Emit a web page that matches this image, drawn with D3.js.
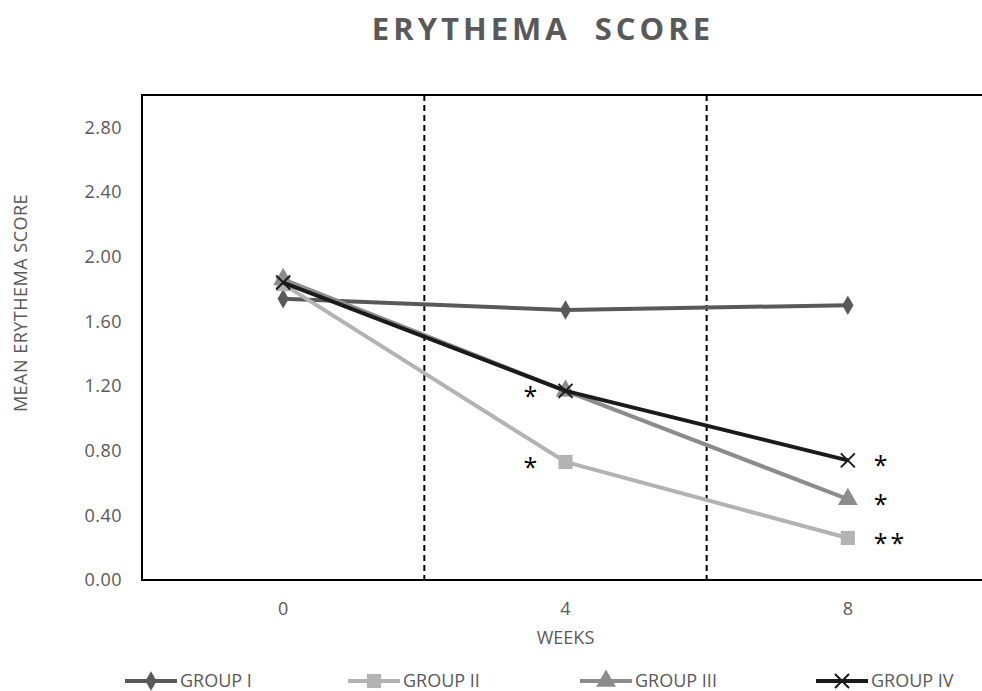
<!DOCTYPE html>
<html>
<head>
<meta charset="utf-8">
<script src="https://cdn.jsdelivr.net/npm/d3@7"></script>
<style>
  body { margin: 0; background: #fff; }
  text { font-family: "Open Sans", "Noto Sans", sans-serif; }
</style>
</head>
<body>
<div id="chart"></div>
<script>
// data
var weeks = ["0", "4", "8"];
var groupNames = ["GROUP I", "GROUP II", "GROUP III", "GROUP IV"];
var group1 = [1.74, 1.67, 1.70];
var group2 = [1.83, 0.73, 0.26];
var group3 = [1.86, 1.17, 0.50];
var group4 = [1.84, 1.17, 0.74];
var yTicks = [0, 0.4, 0.8, 1.2, 1.6, 2.0, 2.4, 2.8];
// significance marks: week, value next to it, text
var sigWeeks = ["4", "4", "8", "8", "8"];
var sigValues = [1.17, 0.73, 0.74, 0.50, 0.26];
var sigText = ["*", "*", "*", "*", "**"];

var W = 982, H = 691;
var margin = {top: 95, left: 142, bottom: 111};
var plotW = 847, plotH = H - margin.top - margin.bottom;

var series = [
    {name: groupNames[0], values: group1, color: "#595959", symbol: d3.symbolDiamond, size: 110},
    {name: groupNames[1], values: group2, color: "#b3b3b3", symbol: d3.symbolSquare, size: 200},
    {name: groupNames[2], values: group3, color: "#8c8c8c", symbol: d3.symbolTriangle, size: 170},
    {name: groupNames[3], values: group4, color: "#1a1a1a", symbol: "x", size: 0}
];

var svg = d3.select("#chart").append("svg")
    .attr("width", W)
    .attr("height", H);

var x = d3.scaleBand().domain(weeks).range([0, plotW]);
var y = d3.scaleLinear().domain([0, 3.0]).range([plotH, 0]);

var g = svg.append("g")
    .attr("transform", "translate(" + margin.left + "," + margin.top + ")");

// title
svg.append("text")
    .attr("x", 543)
    .attr("y", 40)
    .attr("text-anchor", "middle")
    .attr("fill", "#595959")
    .style("font-size", "31px")
    .style("font-weight", "bold")
    .style("letter-spacing", "4px")
    .style("white-space", "pre")
    .text("ERYTHEMA  SCORE");

// dashed separators between weeks
g.selectAll(".sep")
    .data(weeks.slice(1))
    .enter().append("line")
    .attr("x1", function (d) { return x(d); })
    .attr("x2", function (d) { return x(d); })
    .attr("y1", 0)
    .attr("y2", plotH)
    .attr("stroke", "#000")
    .attr("stroke-width", 2)
    .attr("stroke-dasharray", "6,4");

// frame: left, top, bottom
g.append("path")
    .attr("d", "M" + (plotW + 10) + ",0H0V" + plotH + "H" + (plotW + 10))
    .attr("fill", "none")
    .attr("stroke", "#000")
    .attr("stroke-width", 2);

// y axis ticks
var yAxis = d3.axisLeft(y).tickValues(yTicks).tickSize(0).tickPadding(20)
    .tickFormat(d3.format(".2f"));
g.append("g").call(yAxis)
    .call(function (s) { s.select(".domain").remove(); })
    .selectAll("text")
    .attr("fill", "#595959")
    .style("font-size", "18px")
    .style("letter-spacing", "0.5px");

// x axis ticks
var xAxis = d3.axisBottom(x).tickSize(0).tickPadding(22);
g.append("g")
    .attr("transform", "translate(0," + plotH + ")")
    .call(xAxis)
    .call(function (s) { s.select(".domain").remove(); })
    .selectAll("text")
    .attr("fill", "#595959")
    .style("font-size", "18px");

// axis titles
svg.append("text")
    .attr("transform", "translate(27," + 303 + ") rotate(-90)")
    .attr("text-anchor", "middle")
    .attr("fill", "#595959")
    .style("font-size", "18px")
    .style("letter-spacing", "0.5px")
    .text("MEAN ERYTHEMA SCORE");

svg.append("text")
    .attr("x", margin.left + x("4") + x.bandwidth() / 2)
    .attr("y", 644)
    .attr("text-anchor", "middle")
    .attr("fill", "#595959")
    .style("font-size", "18px")
    .text("WEEKS");

var cx = function (d, i) { return x(weeks[i]) + x.bandwidth() / 2; };

var line = d3.line()
    .x(function (d, i) { return cx(d, i); })
    .y(function (d) { return y(d); });

function drawMarker(sel, s) {
    if (s.symbol === "x") {
        sel.append("path")
            .attr("d", "M-7,-7L7,7M-7,7L7,-7")
            .attr("stroke", s.color)
            .attr("stroke-width", 2)
            .attr("fill", "none");
    } else {
        sel.append("path")
            .attr("d", d3.symbol().type(s.symbol).size(s.size))
            .attr("fill", s.color);
    }
}

series.forEach(function (s) {
    g.append("path")
        .datum(s.values)
        .attr("d", line)
        .attr("fill", "none")
        .attr("stroke", s.color)
        .attr("stroke-width", 4);

    g.selectAll(null)
        .data(s.values)
        .enter().append("g")
        .attr("transform", function (d, i) { return "translate(" + cx(d, i) + "," + y(d) + ")"; })
        .each(function () { drawMarker(d3.select(this), s); });
});

// significance asterisks
sigText.forEach(function (t, i) {
    var px = x(sigWeeks[i]) + x.bandwidth() / 2;
    var left = sigWeeks[i] === "4";
    g.append("text")
        .attr("x", left ? px - 42 : px + 26)
        .attr("y", y(sigValues[i]) + 14)
        .attr("text-anchor", "start")
        .attr("fill", "#000")
        .style("font-size", "25px")
        .style("letter-spacing", "3px")
        .text(t);
});

// legend
var legendX = [125, 348, 580, 816];
var legend = svg.append("g").attr("transform", "translate(0,681)");
series.forEach(function (s, i) {
    var lg = legend.append("g").attr("transform", "translate(" + legendX[i] + ",0)");
    lg.append("line")
        .attr("x1", 0).attr("x2", 52)
        .attr("y1", 0).attr("y2", 0)
        .attr("stroke", s.color)
        .attr("stroke-width", 4);
    var m = lg.append("g").attr("transform", "translate(26,0)");
    drawMarker(m, s);
    lg.append("text")
        .attr("x", 55)
        .attr("y", 6)
        .attr("fill", "#595959")
        .style("font-size", "18px")
        .text(s.name);
});
</script>
</body>
</html>
